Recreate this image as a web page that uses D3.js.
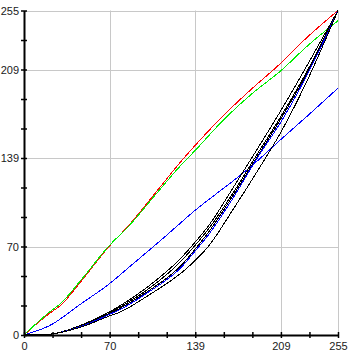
<!DOCTYPE html>
<html>
<head>
<meta charset="utf-8">
<script src="https://d3js.org/d3.v7.min.js"></script>
<style>
  body { margin: 0; background: #fff; }
  svg { display: block; }
  .tick text { font-family: "Liberation Sans", Arial, sans-serif; font-size: 11px; fill: #1a1a1a; }
</style>
</head>
<body>
<div id="curves"></div>
<script>
// tick positions: 11 steps over 0..255, labels on a few of them
var tickSteps = 11;
var labelSteps = [0, 3, 6, 9, 11];

// red and green curves
var xRG = [0, 20, 30, 47, 69, 85, 107, 128, 139, 162, 185, 209, 230, 255];
var redY = [0, 16.5, 23.5, 43, 69.5, 86, 112, 137, 149, 172.5, 193.5, 214, 234, 255];
var greenY = [0, 17.5, 25, 44, 70, 85.5, 110.5, 134, 145, 169, 189.5, 208, 227, 247];

// upper blue curve
var xBlue = [0, 21, 47, 69, 85, 113, 139, 175, 185, 209, 230, 255];
var blueY = [0, 7.5, 25, 40, 53, 76, 98, 125, 133, 154, 172, 194];

// bundle of dark curves (plus one blue inside it)
var xBundle = [0, 20, 47, 69, 78, 100, 128, 139, 150, 170, 190, 209, 230, 255];
var blackA = [0, 0.5, 8, 18, 23, 37.5, 61, 73, 86, 116, 147, 177, 212, 255];
var blackB = [0, 0.5, 7.5, 17, 22, 35.5, 58.5, 70.5, 83.5, 112, 143, 172.3, 207.5, 255];
var blackD = [0, 0.5, 7, 16.5, 21, 34, 55, 67.5, 81, 110, 141, 170.5, 206, 255];
var blueLow = [0, 0.5, 7, 16, 20, 33, 53.5, 66, 79, 108, 140, 168, 204.5, 255];
var blackE = [0, 0.5, 6.5, 14.8, 18, 30.5, 49, 58.5, 70, 99, 129.5, 160, 200, 255];

var series = [
  {x: xRG, y: redY, color: "#ff0000"},
  {x: xRG, y: greenY, color: "#00ee00"},
  {x: xBlue, y: blueY, color: "#0000ff"},
  {x: xBundle, y: blackA, color: "#000000"},
  {x: xBundle, y: blackB, color: "#000000"},
  {x: xBundle, y: blackD, color: "#000000"},
  {x: xBundle, y: blueLow, color: "#0000ff"},
  {x: xBundle, y: blackE, color: "#000000"}
];

var W = 360, H = 355;
var svg = d3.select("#curves")
  .append("svg")
    .attr("width", W)
    .attr("height", H);

var x = d3.scaleLinear().domain([0, 255]).range([24, 338]);
var y = d3.scaleLinear().domain([0, 255]).range([335, 10.5]);

var ticks = d3.range(tickSteps + 1).map(function(i) { return i * 255 / tickSteps; });
var labelled = labelSteps.map(function(i) { return ticks[i]; });

// grid lines at the labelled ticks
svg.append("g")
  .selectAll("line")
  .data(labelled.slice(1))
  .enter()
  .append("line")
    .attr("x1", function(d) { return Math.round(x(d)) + 0.5; })
    .attr("x2", function(d) { return Math.round(x(d)) + 0.5; })
    .attr("y1", y(255))
    .attr("y2", y(0))
    .attr("stroke", "#c8c8c8");
svg.append("g")
  .selectAll("line")
  .data(labelled.slice(1))
  .enter()
  .append("line")
    .attr("y1", function(d) { return Math.round(y(d)) + 0.5; })
    .attr("y2", function(d) { return Math.round(y(d)) + 0.5; })
    .attr("x1", x(0))
    .attr("x2", x(255))
    .attr("stroke", "#c8c8c8");

// the curves
var line = d3.line()
  .x(function(d) { return x(d[0]); })
  .y(function(d) { return y(d[1]); })
  .curve(d3.curveMonotoneX);

svg.selectAll("myCurves")
  .data(series)
  .enter()
  .append("path")
    .attr("d", function(s) { return line(s.x.map(function(v, i) { return [v, s.y[i]]; })); })
    .attr("stroke", function(s) { return s.color; })
    .attr("fill", "none")
    .attr("stroke-width", 1)
    .style("shape-rendering", "crispEdges");

// axes
function fmt(d) {
  return labelled.indexOf(d) >= 0 ? Math.round(d) : "";
}
var xAxis = svg.append("g")
  .attr("transform", "translate(0,335)")
  .call(d3.axisBottom(x).tickValues(ticks).tickFormat(fmt).tickSizeInner(3).tickSizeOuter(0).tickPadding(4));
var yAxis = svg.append("g")
  .attr("transform", "translate(24,0)")
  .call(d3.axisLeft(y).tickValues(ticks).tickFormat(fmt).tickSizeInner(3).tickSizeOuter(0).tickPadding(2));

[xAxis, yAxis].forEach(function(a) {
  a.select(".domain").attr("stroke", "#000").attr("stroke-width", 2);
  a.selectAll(".tick line").attr("stroke", "#000").attr("stroke-width", 1.5);
});
// ticks cross the axis line
xAxis.selectAll(".tick line").attr("y1", -3).attr("y2", 3);
yAxis.selectAll(".tick line").attr("x1", -3).attr("x2", 3);
</script>
</body>
</html>
